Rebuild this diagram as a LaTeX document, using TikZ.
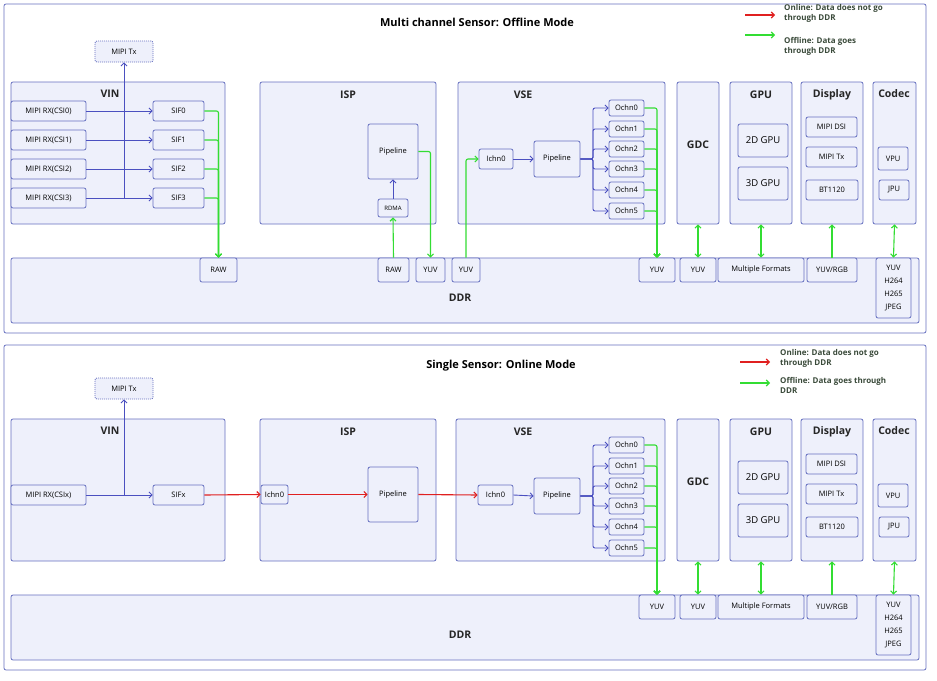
\documentclass[tikz,border=0pt]{standalone}
\usepackage{fontspec}
\setmainfont{Open Sans}
\usetikzlibrary{arrows.meta}
\definecolor{bcol}{HTML}{6670C0}
\definecolor{bfill}{HTML}{EEF0FB}
\definecolor{bline}{HTML}{4B50C0}
\definecolor{gline}{HTML}{33DD33}
\definecolor{rline}{HTML}{E02020}
\definecolor{lgt}{HTML}{3A4A3A}
\tikzset{
 bx/.style={draw=bcol,fill=bfill,rounded corners=2pt,line width=0.8pt,font=\fontsize{7.5}{9}\selectfont,align=center},
 bl/.style={draw=bline,line width=0.9pt,-{Straight Barb[length=3pt,width=6pt]}},
 gr/.style={draw=gline,line width=1.1pt,-{Straight Barb[length=3pt,width=6pt]},rounded corners=2pt},
 gr2/.style={draw=gline,line width=1.1pt,{Straight Barb[length=3pt,width=6pt]}-{Straight Barb[length=3pt,width=6pt]}},
 rd/.style={draw=rline,line width=1.1pt,-{Straight Barb[length=3pt,width=6pt]}},
 ttl/.style={font=\bfseries\fontsize{10.5}{12}\selectfont,text=black!85},
 lg/.style={font=\bfseries\fontsize{8}{10}\selectfont,text=lgt,anchor=north west,align=left,inner sep=0pt}
}
\newcommand\bx[7][]{\node[bx,inner sep=0pt,minimum width={((#5)-(#3))*1pt},minimum height={((#6)-(#4))*1pt},#1] (#2) at ({((#3)+(#5))/2},{((#4)+(#6))/2}) {#7};}
\newcommand\common{%
 \bx{ddr}{11}{258}{919}{323}{}
 \node[ttl] at (460,298) {DDR};
 \bx{vin}{11}{82}{225}{224}{}
 \node[ttl] at (110,94) {VIN};
 \bx{isp}{260}{82}{436}{224}{}
 \node[ttl] at (348,95) {ISP};
 \bx{gdc}{677}{82}{719}{224}{}
 \node[ttl] at (698,145) {GDC};
 \bx{gpu}{730}{82}{792}{224}{}
 \node[ttl] at (761,95) {GPU};
 \bx[font=\fontsize{9.5}{10}\selectfont]{g2}{738}{124}{788}{157}{2D GPU}
 \bx[font=\fontsize{9.5}{10}\selectfont]{g3}{738}{167}{788}{200}{3D GPU}
 \bx{disp}{801}{82}{863}{224}{}
 \node[ttl] at (832,95) {Display};
 \bx{dsi}{806}{117}{857}{137}{MIPI DSI}
 \bx{dtx}{806}{147}{857}{167}{MIPI Tx}
 \bx{bt}{806}{180}{858}{200}{BT1120}
 \bx{codec}{873}{82}{916}{224}{}
 \node[ttl] at (894,94) {Codec};
 \bx{vpu}{878}{147}{908}{170}{VPU}
 \bx{jpu}{879}{180}{909}{200}{JPU}
 \bx[bx,dash pattern=on 1pt off 1pt]{tx}{95}{41}{153}{62}{MIPI Tx}
 \bx{oyuv}{639}{258}{675}{282}{YUV}
 \bx{gyuv}{680}{258}{716}{282}{YUV}
 \bx{mf}{718}{258}{804}{282}{Multiple Formats}
 \bx{yr}{807}{258}{857}{282}{YUV/RGB}
 \bx[text width=33pt,font=\fontsize{7.5}{13}\selectfont]{cf}{876}{258}{911}{318}{YUV\\H264\\H265\\JPEG}
 \draw[gr2] (gdc.south) -- (gyuv.north);
 \draw[gr2] (gpu.south) -- (mf.north);
 \draw[gr] (yr.north) -- (disp.south);
 \draw[gr2] (codec.south) -- (cf.north);
}
\newcommand\vse[1]{%
 \bx{vsebox}{#1}{82}{665}{224}{}
 \node[ttl] at (523,95) {VSE};
 \bx{vpipe}{534}{141}{580}{177}{Pipeline}
 \foreach \i/\y in {0/108,1/129,2/149,3/169,4/190,5/211}{
   \bx{och\i}{609}{\y-8}{644}{\y+8}{Ochn\i}
   \draw[bl,rounded corners=2pt] (vpipe.east) -- (593,159) |- (och\i.west);
   \draw[gr] (och\i.east) -| (oyuv.north);
 }
}
\begin{document}
\begin{tikzpicture}[x=1pt,y=-1pt]
\useasboundingbox (0,0) rectangle (937,680);
\fill[white] (0,0) rectangle (937,680);
% ===== top panel
\draw[bcol,line width=0.8pt,rounded corners=2pt] (4,4) rectangle (926,333);
\node[font=\bfseries\fontsize{11}{12}\selectfont] at (477,22) {Multi channel Sensor: Offline Mode};
\coordinate (la1) at (745,15); \coordinate (la2) at (775,15);
\draw[rd] (la1) -- (la2);
\coordinate (lb1) at (745,35); \coordinate (lb2) at (775,35);
\draw[gr] (lb1) -- (lb2);
\node[lg] at (784,4) {Online: Data does not go\\through DDR};
\node[lg] at (784,37) {Offline: Data goes\\through DDR};
\begin{scope}[name prefix=a-]
\common
\foreach \i/\y in {0/111,1/140,2/169,3/198}{
  \bx{rx\i}{11}{\y-10}{86}{\y+10}{MIPI RX(CSI\i)}
  \bx{sif\i}{153}{\y-10}{204}{\y+10}{SIF\i}
  \draw[bl] (rx\i.east) -- (sif\i.west);
}
\bx{raw}{200}{258}{237}{282}{RAW}
\foreach \i in {0,...,3}{\draw[gr] (sif\i.east) -| (raw.north);}
\coordinate (tj) at (124,198);
\draw[bl] (tj) -- (tx.south);
\bx{pipe}{368}{124}{418}{179}{Pipeline}
\bx[font=\fontsize{6}{7}\selectfont]{rdma}{378}{199}{408}{217}{RDMA}
\draw[bl] (rdma.north) -- (pipe.south);
\bx{iraw}{378}{258}{409}{282}{RAW}
\bx{iyuv}{416}{258}{445}{282}{YUV}
\draw[gr] (iraw.north) -- (rdma.south);
\draw[gr] (pipe.east) -| (iyuv.north);
\vse{458}
\bx{ichn}{479}{149}{513}{169}{Ichn0}
\bx{vyuv}{452}{258}{480}{282}{YUV}
\draw[gr] (vyuv.north) |- (ichn.west);
\draw[bl] (ichn.east) -- (vpipe.west);
\end{scope}
% ===== bottom panel
\draw[bcol,line width=0.8pt,rounded corners=2pt] (4,345) rectangle (926,670);
\node[font=\bfseries\fontsize{11}{12}\selectfont] at (501,366) {Single Sensor: Online Mode};
\coordinate (lc1) at (740,362); \coordinate (lc2) at (770,362);
\draw[rd] (lc1) -- (lc2);
\coordinate (ld1) at (740,383); \coordinate (ld2) at (770,383);
\draw[gr] (ld1) -- (ld2);
\node[lg] at (780,349) {Online: Data does not go\\through DDR};
\node[lg] at (780,377) {Offline: Data goes through\\DDR};
\begin{scope}[name prefix=b-,shift={(0,337)}]
\common
\bx{rx}{11}{148}{86}{168}{MIPI RX(CSIx)}
\bx{sif}{153}{148}{204}{168}{SIFx}
\draw[bl] (rx.east) -- (sif.west);
\coordinate (tj) at (124,158);
\draw[bl] (tj) -- (tx.south);
\bx{ichi}{261}{148}{288}{167}{Ichn0}
\bx{pipe}{368}{130}{418}{185}{Pipeline}
\draw[rd] (sif.east) -- (ichi.west);
\draw[rd] (ichi.east) -- (pipe.west);
\vse{456}
\bx{ichn}{478}{148}{513}{168}{Ichn0}
\draw[rd] (pipe.east) -- (ichn.west);
\draw[bl] (ichn.east) -- (vpipe.west);
\end{scope}
\end{tikzpicture}
\end{document}
